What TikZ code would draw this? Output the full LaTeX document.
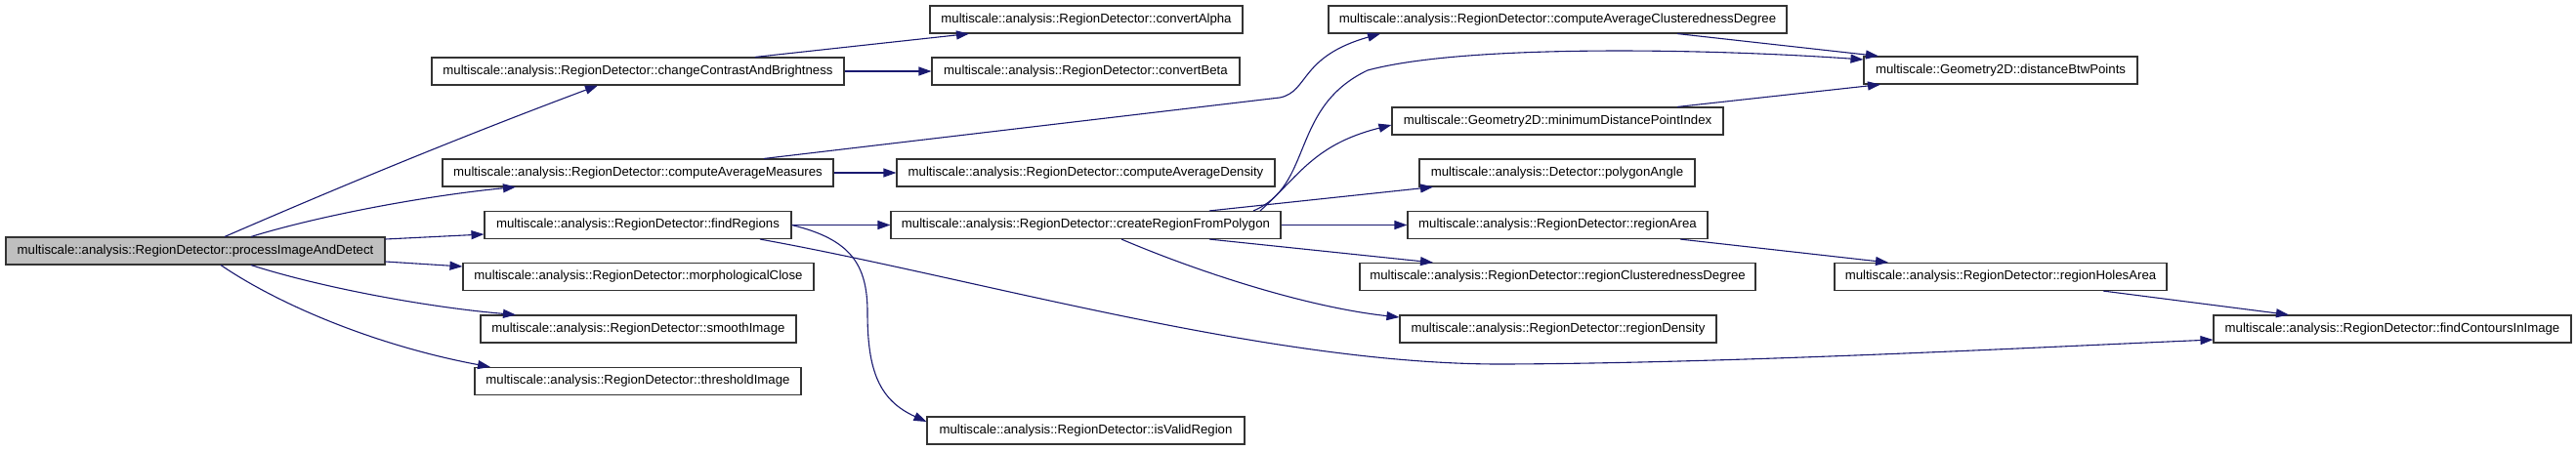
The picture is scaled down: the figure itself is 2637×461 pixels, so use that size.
\documentclass[tikz,border=0pt]{standalone}
\usepackage{fontspec}
\setmainfont{Liberation Sans}
\usetikzlibrary{arrows.meta}
\definecolor{edgeblue}{HTML}{191970}

\begin{document}
\begin{tikzpicture}[x=1pt,y=-1pt,fn/.style={draw=black!80,line width=1.1pt,minimum height=28pt,inner sep=0pt,font=\fontsize{13.2pt}{16pt}\selectfont},call/.style={draw=edgeblue,line width=1.1pt,-{Triangle[length=13pt,width=9pt]}}]
\fill[white] (0,0) rectangle (2637,461);
\node[fn,fill=black!25,minimum width=388pt] (pid) at (200,257) {multiscale::analysis::RegionDetector::processImageAndDetect};
\node[fn,minimum width=422pt] (ccb) at (653,73) {multiscale::analysis::RegionDetector::changeContrastAndBrightness};
\node[fn,minimum width=400pt] (cam) at (653,177) {multiscale::analysis::RegionDetector::computeAverageMeasures};
\node[fn,minimum width=314pt] (frg) at (653,230.5) {multiscale::analysis::RegionDetector::findRegions};
\node[fn,minimum width=359pt] (mcl) at (653.5,283.5) {multiscale::analysis::RegionDetector::morphologicalClose};
\node[fn,minimum width=323pt] (smi) at (653.5,337) {multiscale::analysis::RegionDetector::smoothImage};
\node[fn,minimum width=334pt] (thi) at (653,390.5) {multiscale::analysis::RegionDetector::thresholdImage};
\node[fn,minimum width=320pt] (cal) at (1112,20) {multiscale::analysis::RegionDetector::convertAlpha};
\node[fn,minimum width=315pt] (cbe) at (1111.5,73) {multiscale::analysis::RegionDetector::convertBeta};
\node[fn,minimum width=387pt] (cad) at (1111.5,177) {multiscale::analysis::RegionDetector::computeAverageDensity};
\node[fn,minimum width=399pt] (crp) at (1111.5,230.5) {multiscale::analysis::RegionDetector::createRegionFromPolygon};
\node[fn,minimum width=325pt] (ivr) at (1111.5,441) {multiscale::analysis::RegionDetector::isValidRegion};
\node[fn,minimum width=469pt] (cacd) at (1594.5,20) {multiscale::analysis::RegionDetector::computeAverageClusterednessDegree};
\node[fn,minimum width=339pt] (mdpi) at (1594.5,124) {multiscale::Geometry2D::minimumDistancePointIndex};
\node[fn,minimum width=282pt] (pag) at (1594,177) {multiscale::analysis::Detector::polygonAngle};
\node[fn,minimum width=307pt] (rar) at (1594.5,230.5) {multiscale::analysis::RegionDetector::regionArea};
\node[fn,minimum width=405pt] (rcd) at (1594.5,283.5) {multiscale::analysis::RegionDetector::regionClusterednessDegree};
\node[fn,minimum width=324pt] (rde) at (1595,337) {multiscale::analysis::RegionDetector::regionDensity};
\node[fn,minimum width=280pt] (dbp) at (2048,72) {multiscale::Geometry2D::distanceBtwPoints};
\node[fn,minimum width=340pt] (rha) at (2048,283.5) {multiscale::analysis::RegionDetector::regionHolesArea};
\node[fn,minimum width=366pt] (fci) at (2449,337) {multiscale::analysis::RegionDetector::findContoursInImage};
\draw[call] ([xshift=30pt]pid.north) .. controls (360,186) and (480,137) .. ([xshift=-41pt]ccb.south);
\draw[call] ([xshift=57pt]pid.north) .. controls (330,220) and (440,200) .. ([xshift=-125pt]cam.south);
\draw[call] ([yshift=12pt]pid.east) -- ([yshift=-9.5pt]frg.west);
\draw[call] ([yshift=-11pt]pid.east) -- ([yshift=10.5pt]mcl.west);
\draw[call] ([xshift=57pt]pid.south) .. controls (330,295) and (440,315) .. ([xshift=-125.5pt]smi.north);
\draw[call] ([xshift=26pt]pid.south) .. controls (290,315) and (390,355) .. ([xshift=-151pt]thi.north);
\draw[call] ([xshift=120pt]ccb.north) -- ([xshift=-120pt]cal.south);
\draw[call] (ccb.east) -- (cbe.west);
\draw[call] ([xshift=129pt]cam.north) -- (1310,100) .. controls (1340,94) and (1330,58) .. ([xshift=-181.5pt]cacd.south);
\draw[call] (cam.east) -- (cad.west);
\draw[call] (frg.east) -- (crp.west);
\draw[call] (frg.east) .. controls (870,245) and (888,270) .. (888,320) .. controls (888,380) and (900,410) .. ([yshift=9pt]ivr.west);
\draw[call] ([xshift=125pt]frg.south) .. controls (1000,285) and (1300,374) .. (1540,373) .. controls (1780,372) and (2100,355) .. ([yshift=-11pt]fci.west);
\draw[call] ([xshift=126.5pt]crp.north) -- ([xshift=-127pt]pag.south);
\draw[call] (crp.east) -- (rar.west);
\draw[call] ([xshift=126.5pt]crp.south) -- ([xshift=-127.5pt]rcd.north);
\draw[call] ([xshift=36.5pt]crp.south) .. controls (1230,280) and (1340,315) .. ([yshift=12pt]rde.west);
\draw[call] ([xshift=178.5pt]crp.north) .. controls (1330,180) and (1345,148) .. ([yshift=-4pt]mdpi.west);
\draw[call] ([xshift=171.5pt]crp.north) .. controls (1345,190) and (1320,110) .. (1400,72) .. controls (1500,45) and (1750,50) .. ([yshift=11pt]dbp.west);
\draw[call] ([xshift=122.5pt]cacd.south) -- ([xshift=-125pt]dbp.north);
\draw[call] ([xshift=122.5pt]mdpi.north) -- ([xshift=-123pt]dbp.south);
\draw[call] ([xshift=125.5pt]rar.south) -- ([xshift=-115pt]rha.north);
\draw[call] ([xshift=105pt]rha.south) -- ([xshift=-106pt]fci.north);
\end{tikzpicture}
\end{document}
